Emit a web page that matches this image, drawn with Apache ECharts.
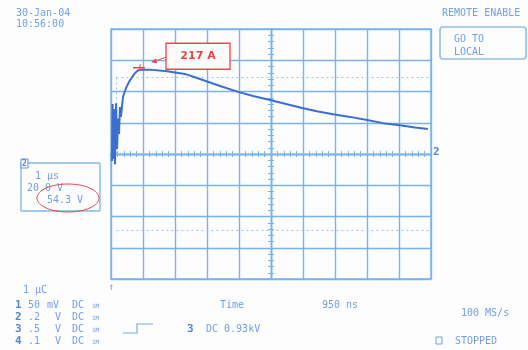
<!DOCTYPE html>
<html>
<head>
<meta charset="utf-8">
<script src="https://cdn.jsdelivr.net/npm/echarts@6/dist/echarts.min.js"></script>
<style>
  html, body { margin: 0; padding: 0; background: #fdfdfe; }
  #scope { width: 528px; height: 350px; }
</style>
</head>
<body>
<div id="scope"></div>
<script>
// Channel 2 current trace, time in microseconds after trigger, current in amperes
const timeUs = [0.02, 0.03, 0.05, 0.06, 0.09, 0.125, 0.16, 0.19, 0.22, 0.25, 0.28, 0.31,
  0.375, 0.47, 0.56, 0.66, 0.75, 0.84, 0.94, 1.0, 1.22, 1.75, 2.31, 2.78, 3.41, 3.97,
  4.47, 4.97, 5.47, 5.97, 6.47, 6.94, 7.47, 8.0, 8.5, 8.97, 9.5, 9.9];
const currentA = [0, -18, 128, -13, 115, -26, 130, 13, 90, 51, 120, 95,
  146, 169, 184, 197, 207, 214, 216, 217, 216, 212, 205, 192, 174, 159,
  148, 138, 128, 118, 109, 102, 95, 87, 79, 74, 68, 64];

// Peak readout
const peakTime = 1.0;
const peakCurrent = 217;

// Cursor lines
const cursorTime = 0.17;
const cursorLevel = 196;

// Screen graticule: 10 x 8 divisions
const timeMin = 0, timeMax = 10, timeDiv = 1;
const ampMin = -320, ampMax = 320, ampDiv = 80;

// Readouts
const dateText = '30-Jan-04';
const clockText = '10:56:00';
const channelRows = [
  ['1', '50', 'mV', 'DC'],
  ['2', '.2', 'V', 'DC'],
  ['3', '.5', 'V', 'DC'],
  ['4', '.1', 'V', 'DC']
];

const gridColor = '#7ab4e6';
const textColor = '#72a0e2';
const traceColor = '#3c6dd0';
const redColor = '#e5484d';
const mono = '"DejaVu Sans Mono", "Liberation Mono", monospace';

const chart = echarts.init(document.getElementById('scope'), null, { renderer: 'canvas' });

// Axis drawn through the centre of the screen, carrying the fine tick marks
function centerAxis(position, offset, isX) {
  return {
    type: 'value',
    position: position,
    offset: offset,
    min: isX ? timeMin : ampMin,
    max: isX ? timeMax : ampMax,
    interval: isX ? timeDiv : ampDiv,
    axisLine: { show: true, onZero: false, lineStyle: { color: gridColor, width: 1.4 } },
    axisTick: { show: true, inside: true, length: 3, lineStyle: { color: gridColor, width: 1 } },
    minorTick: { show: true, splitNumber: 5, length: 3, lineStyle: { color: gridColor, width: 1 } },
    axisLabel: { show: false },
    splitLine: { show: false }
  };
}

chart.setOption({
  backgroundColor: '#fdfdfe',
  animation: false,
  grid: { left: 111, top: 29, width: 320, height: 250, show: true,
          borderColor: gridColor, borderWidth: 1.4, backgroundColor: 'transparent' },
  xAxis: [
    { type: 'value', min: timeMin, max: timeMax, interval: timeDiv,
      axisLine: { show: false }, axisTick: { show: false }, axisLabel: { show: false },
      splitLine: { show: true, lineStyle: { color: gridColor, width: 1.4 } } },
    centerAxis('bottom', -125, true),
    centerAxis('top', -125, true)
  ],
  yAxis: [
    { type: 'value', min: ampMin, max: ampMax, interval: ampDiv,
      axisLine: { show: false }, axisTick: { show: false }, axisLabel: { show: false },
      splitLine: { show: true, lineStyle: { color: gridColor, width: 1.4 } } },
    centerAxis('left', -160, false),
    centerAxis('right', -160, false)
  ],
  series: [{
    type: 'line',
    xAxisIndex: 0,
    yAxisIndex: 0,
    data: timeUs.map((t, i) => [t, currentA[i]]),
    showSymbol: false,
    lineStyle: { color: traceColor, width: 2 },
    z: 5,
    markLine: {
      silent: true,
      symbol: 'none',
      label: { show: false },
      lineStyle: { color: '#98c3ec', width: 1, type: [2, 3] },
      data: [
        [{ coord: [cursorTime, cursorLevel] }, { coord: [timeMax, cursorLevel] }],
        [{ coord: [cursorTime, -cursorLevel] }, { coord: [timeMax, -cursorLevel] }],
        [{ coord: [cursorTime, cursorLevel] }, { coord: [cursorTime, 0] }]
      ]
    }
  }]
});

const p = chart.convertToPixel({ xAxisIndex: 0, yAxisIndex: 0 }, [peakTime, peakCurrent]);
const right = chart.convertToPixel({ xAxisIndex: 0, yAxisIndex: 0 }, [timeMax, 0]);
const left = chart.convertToPixel({ xAxisIndex: 0, yAxisIndex: 0 }, [timeMin, ampMin]);

function txt(x, y, s, opt) {
  return {
    type: 'text', x: x, y: y, silent: true, z: 20,
    style: Object.assign({ text: s, fill: textColor, font: '10px ' + mono, textVerticalAlign: 'middle' },
      (opt && opt.style) || {})
  };
}
function bold(x, y, s) {
  return txt(x, y, s, { style: { font: 'bold 11px ' + mono, fill: '#5286da' } });
}

const g = [];
// header readouts
g.push(txt(16, 13, dateText));
g.push(txt(16, 24, clockText));
g.push(txt(442, 13, 'REMOTE ENABLE'));
g.push({ type: 'rect', shape: { x: 440, y: 27, width: 86, height: 32, r: 3 }, silent: true,
         style: { fill: 'none', stroke: '#8fbde9', lineWidth: 1.6 } });
g.push(txt(454, 39, 'GO TO'));
g.push(txt(454, 52, 'LOCAL'));

// channel 2 info box
g.push({ type: 'rect', shape: { x: 21, y: 163, width: 79, height: 48, r: 1 }, silent: true,
         style: { fill: 'none', stroke: '#86b8e8', lineWidth: 1.4 } });
g.push({ type: 'rect', shape: { x: 21, y: 159, width: 7, height: 9 }, silent: true,
         style: { fill: '#fdfdfe', stroke: '#5d8fdc', lineWidth: 1 } });
g.push(txt(22, 164, '2', { style: { font: 'bold 8px ' + mono, fill: '#5286da' } }));
g.push(txt(35, 176, '1 \u03bcs'));
g.push(txt(27, 188, '20.0 V'));
g.push(txt(47, 200, '54.3 V'));
g.push({ type: 'ellipse', shape: { cx: 68, cy: 198, rx: 31, ry: 14 }, silent: true, z: 21,
         style: { fill: 'none', stroke: redColor, lineWidth: 1 } });

// channel markers on the graticule
g.push(bold(right[0] + 2, right[1] - 2, '2'));
g.push(txt(left[0] - 3, left[1] + 8, '\u2191', { style: { font: '10px ' + mono } }));

// channel settings rows
g.push(txt(23, 290, '1 \u03bcC'));
channelRows.forEach((r, i) => {
  const y = 305 + i * 12;
  g.push(bold(15, y, r[0]));
  g.push(txt(28, y, r[1]));
  g.push(txt(r[2] === 'mV' ? 47 : 55, y, r[2]));
  g.push(txt(72, y, r[3]));
  g.push(txt(92, y + 1, '1M', { style: { font: '6px ' + mono } }));
});

// trigger readout
g.push({ type: 'polyline', silent: true, shape: { points: [[123, 333], [137, 333], [137, 324], [153, 324]] },
         style: { stroke: '#7aa8e4', lineWidth: 1.2, fill: 'none' } });
g.push(bold(187, 329, '3'));
g.push(txt(206, 329, 'DC 0.93kV'));
g.push(txt(220, 305, 'Time'));
g.push(txt(322, 305, '950 ns'));
g.push(txt(461, 313, '100 MS/s'));
g.push({ type: 'rect', shape: { x: 436, y: 337, width: 6, height: 7 }, silent: true,
         style: { fill: 'none', stroke: textColor, lineWidth: 1 } });
g.push(txt(455, 341, 'STOPPED'));

// peak readout marker, arrow and label
g.push({ type: 'line', silent: true, z: 22, shape: { x1: p[0] - 10, y1: p[1] - 1.5, x2: p[0] + 2, y2: p[1] - 1.5 },
         style: { stroke: redColor, lineWidth: 1.5 } });
g.push({ type: 'line', silent: true, z: 22, shape: { x1: p[0] - 3, y1: p[1] - 5, x2: p[0] - 3, y2: p[1] + 2 },
         style: { stroke: redColor, lineWidth: 1 } });
g.push({ type: 'line', silent: true, z: 22, shape: { x1: p[0] + 23, y1: p[1] - 12, x2: p[0] + 12, y2: p[1] - 8 },
         style: { stroke: redColor, lineWidth: 1 } });
g.push({ type: 'polygon', silent: true, z: 22,
         shape: { points: [[p[0] + 8, p[1] - 7], [p[0] + 13, p[1] - 11], [p[0] + 14, p[1] - 6]] },
         style: { fill: redColor } });
g.push({ type: 'rect', silent: true, z: 22, shape: { x: p[0] + 23, y: p[1] - 26, width: 64, height: 26 },
         style: { fill: '#fffafa', stroke: redColor, lineWidth: 1.3 } });
g.push({ type: 'text', silent: true, z: 23, x: p[0] + 55, y: p[1] - 13,
         style: { text: peakCurrent + ' A', fill: redColor, font: 'bold 11px "DejaVu Sans", sans-serif',
                  textAlign: 'center', textVerticalAlign: 'middle' } });

chart.setOption({ graphic: g });
</script>
</body>
</html>
